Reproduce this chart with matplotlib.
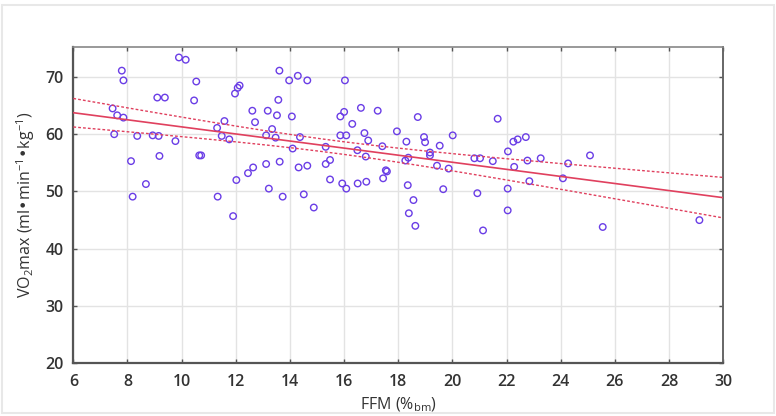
import numpy as np
import matplotlib
matplotlib.use("Agg")
import matplotlib.pyplot as plt
from matplotlib.patches import Rectangle

# FFM (%bm) values
ffm = [
    7.79, 7.85, 7.45, 7.62, 7.85, 7.51, 8.13, 8.19, 8.36, 8.68,
    8.93, 9.15, 9.10, 9.38, 9.18, 9.77, 9.90, 10.15, 10.54, 10.46,
    10.65, 10.72,
    13.61, 13.97, 14.29, 14.64, 16.03, 12.14, 12.07, 11.97, 13.57, 12.61,
    13.18, 13.52, 14.07, 12.71, 11.58, 11.31, 11.48, 11.76, 13.34, 13.12,
    13.47, 14.37, 14.10, 15.32, 15.86, 16.00, 15.86, 16.08, 13.12, 13.62,
    12.64, 12.45, 12.02, 14.32, 14.64, 15.32, 15.48, 15.48, 15.93, 16.08,
    13.22, 11.33, 13.73, 14.51, 14.88, 11.90,
    16.62, 17.24, 18.72, 16.30, 16.75, 16.89, 16.49, 16.80, 17.41, 17.95,
    18.30, 18.95, 18.99, 19.53, 20.01, 19.17, 19.17, 18.37, 18.26, 19.43,
    19.86, 17.54, 17.58, 17.44, 16.50, 16.82, 18.35, 19.66, 18.56, 18.39,
    18.63, 20.81, 21.02, 20.92, 21.13,
    21.67, 22.25, 22.41, 22.71, 22.05, 21.49, 22.77, 23.26, 22.28, 24.27,
    25.08, 22.84, 24.08, 22.04, 22.04, 25.55, 29.12,
]

# VO2max (ml/min/kg) values
vo2max = [
    71.1, 69.4, 64.5, 63.3, 62.9, 60.0, 55.3, 49.1, 59.7, 51.3,
    59.8, 59.7, 66.4, 66.4, 56.2, 58.8, 73.4, 73.0, 69.2, 65.9,
    56.3, 56.3,
    71.1, 69.4, 70.2, 69.4, 69.4, 68.5, 68.1, 67.1, 66.0, 64.1,
    64.1, 63.3, 63.1, 62.1, 62.3, 61.1, 59.7, 59.1, 60.9, 59.8,
    59.4, 59.5, 57.5, 57.8, 63.1, 63.9, 59.8, 59.8, 54.8, 55.2,
    54.2, 53.2, 52.0, 54.2, 54.5, 54.8, 55.5, 52.1, 51.4, 50.5,
    50.5, 49.1, 49.1, 49.5, 47.2, 45.7,
    64.6, 64.1, 63.0, 61.8, 60.2, 58.9, 57.2, 56.1, 57.9, 60.5,
    58.7, 59.5, 58.6, 58.0, 59.8, 56.8, 56.3, 55.9, 55.4, 54.5,
    54.0, 53.7, 53.5, 52.3, 51.4, 51.7, 51.1, 50.4, 48.5, 46.2,
    44.0, 55.8, 55.8, 49.7, 43.2,
    62.7, 58.7, 59.1, 59.5, 57.0, 55.3, 55.4, 55.8, 54.3, 54.9,
    56.3, 51.8, 52.3, 50.5, 46.7, 43.8, 45.0,
]

x_ticks = [6, 8, 10, 12, 14, 16, 18, 20, 22, 24, 26, 28, 30]
y_ticks = [20, 30, 40, 50, 60, 70]

point_color = "#6a3de6"
line_color = "#e0405e"


def fit_with_ci(x, y, grid, t_val=1.98):
    """线性回归 + 95% 置信带"""
    x = np.asarray(x)
    y = np.asarray(y)
    n = len(x)
    slope, intercept = np.polyfit(x, y, 1)
    resid = y - (slope * x + intercept)
    s = np.sqrt(np.sum(resid ** 2) / (n - 2))
    sxx = np.sum((x - x.mean()) ** 2)
    fit = slope * grid + intercept
    half = t_val * s * np.sqrt(1 / n + (grid - x.mean()) ** 2 / sxx)
    return fit, fit - half, fit + half


def main():
    plt.rcParams['font.family'] = ['Open Sans', 'DejaVu Sans']
    fig = plt.figure(figsize=(7.76, 4.16), dpi=100)
    fig.patches.append(Rectangle((0.003, 0.007), 0.994, 0.981, transform=fig.transFigure,
                                 fill=False, edgecolor="#e8e8e8", linewidth=1.5))
    ax = fig.add_axes([0.0945, 0.1267, 0.8375, 0.7613])

    ax.scatter(ffm, vo2max, s=22, facecolors="none", edgecolors=point_color,
               linewidths=1.0, zorder=3)

    grid = np.linspace(6, 30, 200)
    fit, lo, hi = fit_with_ci(ffm, vo2max, grid)
    ax.plot(grid, fit, color=line_color, linewidth=1.2, zorder=4)
    ax.plot(grid, lo, color=line_color, linewidth=1.0, linestyle=(0, (2, 1.5)), zorder=4)
    ax.plot(grid, hi, color=line_color, linewidth=1.0, linestyle=(0, (2, 1.5)), zorder=4)

    ax.set_xlim(6, 30)
    ax.set_ylim(20, 75.3)
    ax.set_xticks(x_ticks)
    ax.set_yticks(y_ticks)
    ax.grid(True, color="#e3e3e3", linewidth=1.0)
    ax.set_axisbelow(True)

    for side in ["left", "bottom"]:
        ax.spines[side].set_color("#555555")
        ax.spines[side].set_linewidth(1.6)
    ax.spines["top"].set_color("#888888")
    ax.spines["top"].set_linewidth(1.2)
    ax.spines["right"].set_color("#666666")
    ax.spines["right"].set_linewidth(1.4)

    ax.tick_params(axis="both", labelsize=11.5, labelcolor="#333333", color="#555555",
                   length=3, width=1, direction="in")
    ax.tick_params(axis="y", right=True, pad=7)
    ax.tick_params(axis="x", top=True, pad=8)
    for lab in ax.get_xticklabels() + ax.get_yticklabels():
        lab.set_fontweight("semibold")

    ax.set_xlabel("FFM (%$_{\\mathregular{bm}}$)", fontsize=11.5, color="#333333", labelpad=4)
    ax.set_ylabel("VO$_{\\mathregular{2}}$max (ml•min$^{\\mathregular{-1}}$•kg$^{\\mathregular{-1}}$)",
                  fontsize=11.5, color="#333333", labelpad=6)

    fig.savefig("out.png", dpi=100)


if __name__ == "__main__":
    main()
